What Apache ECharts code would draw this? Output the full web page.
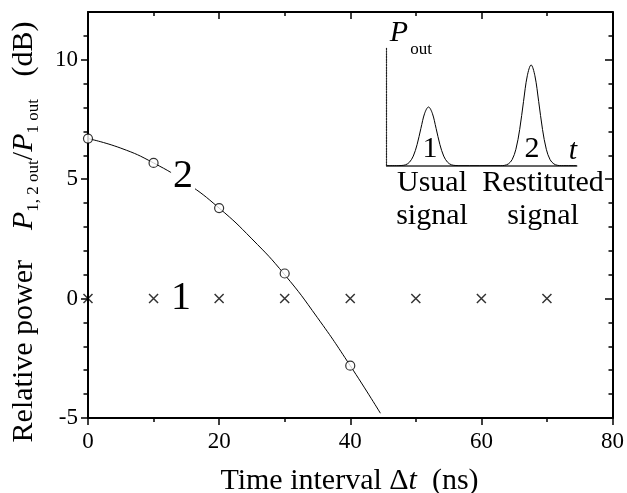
<!DOCTYPE html>
<html><head><meta charset="utf-8">
<script src="https://cdn.jsdelivr.net/npm/echarts@6/dist/echarts.min.js"></script>
<style>html,body{margin:0;padding:0;background:#fff}#c{width:627px;height:493px}</style>
</head><body><div id="c"></div>
<script>
// ---- data ----
const xTickLabels = [0, 20, 40, 60, 80];
const yTickLabels = [-5, 0, 5, 10];
// curve 2 (fit line)
const curveX = [0, 5, 10, 15, 20, 25, 30, 35, 40, 44.6];
const curveY = [6.7, 6.3, 5.68, 4.85, 3.79, 2.5, 1.0, -0.8, -2.81, -4.8];
// curve 2 measured points (circles)
const circleX = [0, 10, 20, 30, 40];
const circleY = [6.7, 5.68, 3.79, 1.05, -2.81];
// curve 1 measured points (crosses)
const crossX = [0, 10, 20, 30, 40, 50, 60, 70];
const crossY = [0, 0, 0, 0, 0, 0, 0, 0];
// inset pulses (arbitrary units)
const pulseT = [0, 6, 8, 10, 12, 14, 16, 18, 20, 22, 24, 26, 28, 30, 32, 34, 36, 38,
  60, 62, 64, 66, 68, 70, 72, 74, 76, 78, 80, 82, 84, 86, 88, 90, 92, 100];
const pulseP = [0, 0, 0.002, 0.008, 0.03, 0.082, 0.18, 0.318, 0.447, 0.5, 0.447, 0.318, 0.18, 0.082, 0.03, 0.008, 0.002, 0,
  0, 0.003, 0.015, 0.051, 0.14, 0.309, 0.546, 0.766, 0.858, 0.766, 0.546, 0.309, 0.14, 0.051, 0.015, 0.003, 0, 0];

const FONT = 'Liberation Serif';
const zip = (a, b) => a.map((v, i) => [v, b[i]]);

const L = 88, T = 12, W = 525, H = 406;
const perUnit = H / 17;
const blk = '#000';

const chart = echarts.init(document.getElementById('c'), null, {renderer: 'canvas'});
const hid = (gi, min, max) => ({gridIndex: gi, type: 'value', min, max, show: false});

const option = {
  animation: false,
  backgroundColor: '#fff',
  grid: [
    {left: L, top: T, width: W, height: H},
    {left: L, top: T + perUnit * 1, width: W, height: perUnit * 16},
    {left: L, top: T + perUnit * 2, width: W, height: perUnit * 15},
    {left: 386.7, top: 48.3, width: 190, height: 117.4}
  ],
  xAxis: [
    {gridIndex: 0, type: 'value', position: 'bottom', min: 0, max: 80, interval: 20,
      axisLine: {onZero: false, lineStyle: {color: blk, width: 2}},
      axisTick: {inside: false, length: 7, lineStyle: {color: blk, width: 1.5}},
      minorTick: {show: true, splitNumber: 2, length: 4, lineStyle: {color: blk, width: 1.5}},
      splitLine: {show: false},
      axisLabel: {margin: 12, fontFamily: FONT, fontSize: 23, color: blk,
        formatter: v => xTickLabels.includes(v) ? String(v) : ''}},
    {gridIndex: 0, type: 'value', position: 'top', min: 0, max: 80, interval: 20,
      axisLine: {onZero: false, lineStyle: {color: blk, width: 2}},
      axisTick: {inside: true, length: 7, lineStyle: {color: blk, width: 1.5}},
      minorTick: {show: true, splitNumber: 2, length: 4, lineStyle: {color: blk, width: 1.5}},
      splitLine: {show: false}, axisLabel: {show: false}},
    hid(1, 0, 80), hid(2, 0, 80),
    {gridIndex: 3, type: 'value', min: 0, max: 100,
      axisLine: {onZero: false, lineStyle: {color: '#333', width: 1.5}},
      axisTick: {show: false}, splitLine: {show: false}, axisLabel: {show: false}}
  ],
  yAxis: [
    {gridIndex: 0, type: 'value', position: 'left', min: -5, max: 12,
      axisLine: {show: true, onZero: false, lineStyle: {color: blk, width: 2}},
      axisTick: {show: false}, splitLine: {show: false}, axisLabel: {show: false}},
    {gridIndex: 0, type: 'value', position: 'right', min: -5, max: 12,
      axisLine: {show: true, onZero: false, lineStyle: {color: blk, width: 2}},
      axisTick: {show: false}, splitLine: {show: false}, axisLabel: {show: false}},
    {gridIndex: 1, type: 'value', position: 'left', min: -5, max: 11, interval: 1,
      axisLine: {show: false}, axisTick: {show: true, inside: false, length: 4.5, lineStyle: {color: blk, width: 1.5}},
      splitLine: {show: false}, axisLabel: {show: false}},
    {gridIndex: 1, type: 'value', position: 'right', min: -5, max: 11, interval: 1,
      axisLine: {show: false}, axisTick: {show: true, inside: true, length: 4.5, lineStyle: {color: blk, width: 1.5}},
      splitLine: {show: false}, axisLabel: {show: false}},
    {gridIndex: 2, type: 'value', position: 'left', min: -5, max: 10, interval: 5,
      axisLine: {show: false}, axisTick: {show: true, inside: false, length: 7, lineStyle: {color: blk, width: 1.5}},
      splitLine: {show: false},
      axisLabel: {margin: 10, fontFamily: FONT, fontSize: 23, color: blk,
        formatter: v => yTickLabels.includes(v) ? String(v) : ''}},
    {gridIndex: 2, type: 'value', position: 'right', min: -5, max: 10, interval: 5,
      axisLine: {show: false}, axisTick: {show: true, inside: true, length: 8, lineStyle: {color: blk, width: 1.5}},
      splitLine: {show: false}, axisLabel: {show: false}},
    {gridIndex: 3, type: 'value', min: 0, max: 1,
      axisLine: {show: true, onZero: false, lineStyle: {color: '#222', width: 1.2, type: [1.5, 1.2]}},
      axisTick: {show: false}, splitLine: {show: false}, axisLabel: {show: false}}
  ],
  series: [
    {type: 'line', xAxisIndex: 0, yAxisIndex: 0, data: zip(curveX, curveY), smooth: true,
      showSymbol: false, symbol: 'none', lineStyle: {color: blk, width: 1}, z: 2},
    {type: 'scatter', xAxisIndex: 0, yAxisIndex: 0, data: zip(circleX, circleY), symbol: 'circle', symbolSize: 9,
      itemStyle: {color: '#fff', borderColor: blk, borderWidth: 1.2}, z: 3},
    {type: 'scatter', xAxisIndex: 0, yAxisIndex: 0, data: zip(crossX, crossY),
      symbol: 'path://M0,0L10,10M10,0L0,10', symbolSize: 9,
      itemStyle: {color: 'none', borderColor: blk, borderWidth: 1.5}, z: 3},
    {type: 'line', xAxisIndex: 4, yAxisIndex: 6, data: zip(pulseT, pulseP), smooth: 0.35,
      showSymbol: false, symbol: 'none', lineStyle: {color: blk, width: 1}, z: 2}
  ]
};
chart.setOption(option);

const p2 = chart.convertToPixel({gridIndex: 0}, [14.5, 5.1]);
const p1 = chart.convertToPixel({gridIndex: 0}, [14.2, 0.0]);
const txt = (x, y, text, extra) => ({type: 'text', x, y, z: 100,
  style: Object.assign({text, fontFamily: FONT, fontSize: 30, fill: blk, align: 'center', verticalAlign: 'middle'}, extra || {})});

chart.setOption({graphic: [
  txt(p2[0], p2[1], '2', {fontSize: 40, backgroundColor: '#fff', padding: [0, 2, 0, 2]}),
  txt(p1[0], p1[1], '1', {fontSize: 40, backgroundColor: '#fff', padding: [0, 2, 0, 2]}),
  // inset annotations
  txt(399, 33, 'P', {fontStyle: 'italic'}),
  txt(421, 50, 'out', {fontSize: 17}),
  txt(430, 149, '1'),
  txt(532, 149, '2'),
  txt(573, 151, 't', {fontStyle: 'italic'}),
  txt(432, 183, 'Usual'),
  txt(432, 216, 'signal'),
  txt(543, 183, 'Restituted'),
  txt(543, 216, 'signal'),
  // axis titles
  {type: 'text', x: 349.5, y: 481, z: 100, style: {
    text: '{n|Time interval Δ}{i|t}{n|  (ns)}', align: 'center', verticalAlign: 'middle',
    rich: {n: {fontFamily: FONT, fontSize: 30, fill: blk}, i: {fontFamily: FONT, fontSize: 30, fontStyle: 'italic', fill: blk}}}},
  {type: 'text', x: 24, y: 232, rotation: Math.PI / 2, z: 100, style: {
    text: '{n|Relative power    }{i|P}{s|1, 2 out}{n|/}{i|P}{s|1 out}{n|   (dB)}',
    align: 'center', verticalAlign: 'middle',
    rich: {
      n: {fontFamily: FONT, fontSize: 30, lineHeight: 36, fill: blk, verticalAlign: 'middle'},
      i: {fontFamily: FONT, fontSize: 30, lineHeight: 36, fontStyle: 'italic', fill: blk, verticalAlign: 'middle'},
      s: {fontFamily: FONT, fontSize: 17, lineHeight: 17, fill: blk, verticalAlign: 'bottom'}
    }}}
]});
</script></body></html>
